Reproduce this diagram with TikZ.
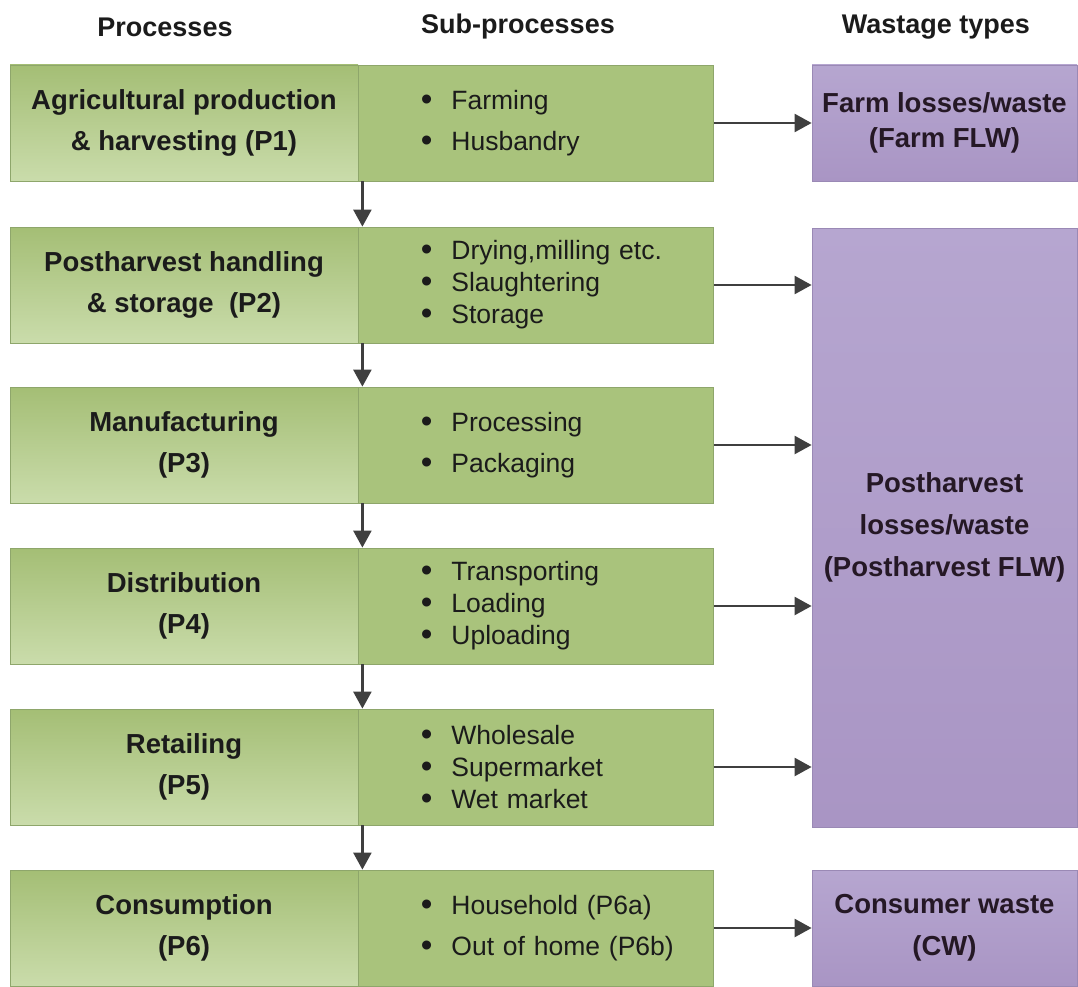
\documentclass[tikz,border=0pt]{standalone}
\usepackage{fontspec}
\setmainfont{Liberation Sans}
\usetikzlibrary{positioning,arrows.meta}
\definecolor{procTop}{HTML}{A4BE75}
\definecolor{procBottom}{HTML}{CADCAB}
\definecolor{subGreen}{HTML}{A9C37C}
\definecolor{edgeGreen}{HTML}{8EA66B}
\definecolor{wasteTop}{HTML}{B6A6D0}
\definecolor{wasteBottom}{HTML}{A995C4}
\definecolor{wasteEdge}{HTML}{9A89B5}
\definecolor{arrowGray}{HTML}{3F3F3F}
\definecolor{inkDark}{HTML}{1B1B1B}
\newcommand{\bul}{\hspace*{34pt}\raisebox{-0.03em}{\scalebox{1.25}{\textbullet}}\hspace{19pt}}

\begin{document}
\begin{tikzpicture}[x=1pt, y=-1pt,
  proc/.style={rectangle, minimum width=348pt, minimum height=116pt, inner sep=0pt,
    align=center, font=\bfseries\fontsize{27.5}{41}\selectfont, text=inkDark,
    top color=procTop, bottom color=procBottom, draw=edgeGreen, line width=0.8pt},
  sub/.style={rectangle, minimum width=355pt, minimum height=116pt, inner xsep=0pt,
    text width=299pt, align=left, font=\fontsize{26.5}{32}\selectfont, text=inkDark,
    fill=subGreen, draw=edgeGreen, line width=0.8pt},
  waste/.style={rectangle, minimum width=265pt, inner sep=0pt, align=center,
    font=\bfseries\fontsize{27.5}{42}\selectfont, text=inkDark!90!violet,
    top color=wasteTop, bottom color=wasteBottom, draw=wasteEdge, line width=0.8pt},
  head/.style={font=\bfseries\fontsize{27}{30}\selectfont, text=inkDark},
  flow/.style={-{Triangle[length=17pt,width=18pt]}, arrowGray, line width=2.4pt}
]
  \useasboundingbox (0,0) rectangle (1078,987);

  % column headings
  \node[head] (hproc) at (165,27) {Processes};
  \node[head] (hsub) at (518,27) {Sub-processes};
  \node[head] (hwaste) at (936,27) {Wastage types};

  % process rows
  \node[proc] (p1) at (184,123) {Agricultural production\\\& harvesting (P1)};
  \node[sub, right=0pt of p1] (s1) {\bul Farming\\[9pt]\bul Husbandry};

  \node[proc] (p2) at (184,285) {Postharvest handling\\\& storage~ (P2)};
  \node[sub, right=0pt of p2] (s2) {\bul Drying,milling etc.\\\bul Slaughtering\\\bul Storage};

  \node[proc] (p3) at (184,445) {Manufacturing\\(P3)};
  \node[sub, right=0pt of p3] (s3) {\bul Processing\\[9pt]\bul Packaging};

  \node[proc] (p4) at (184,606) {Distribution\\(P4)};
  \node[sub, right=0pt of p4] (s4) {\bul Transporting\\\bul Loading\\\bul Uploading};

  \node[proc] (p5) at (184,767) {Retailing\\(P5)};
  \node[sub, right=0pt of p5] (s5) {\bul Wholesale\\\bul Supermarket\\\bul Wet market};

  \node[proc] (p6) at (184,928) {Consumption\\(P6)};
  \node[sub, right=0pt of p6] (s6) {\bul Household (P6a)\\[9pt]\bul Out of home (P6b)};

  % wastage types
  \node[waste, minimum height=116pt, font=\bfseries\fontsize{27.5}{35}\selectfont] (farm) at (944.5,123) {Farm losses/waste\\(Farm FLW)};
  \node[waste, minimum height=599pt] (post) at (944.5,527.5) {Postharvest\\losses/waste\\(Postharvest FLW)};
  \node[waste, minimum height=116pt] (cons) at (944.5,928) {Consumer waste\\(CW)};

  \foreach \a/\b in {s1/s2,s2/s3,s3/s4,s4/s5,s5/s6}{ \draw[flow] ([xshift=4pt]\a.south west) -- ([xshift=4pt]\b.north west); }

  \draw[flow] (s1.east) -- (farm.west);
  \foreach \n in {s2,s3,s4,s5}{ \draw[flow] (\n.east) -- (\n.east -| post.west); }
  \draw[flow] (s6.east) -- (cons.west);
\end{tikzpicture}
\end{document}
